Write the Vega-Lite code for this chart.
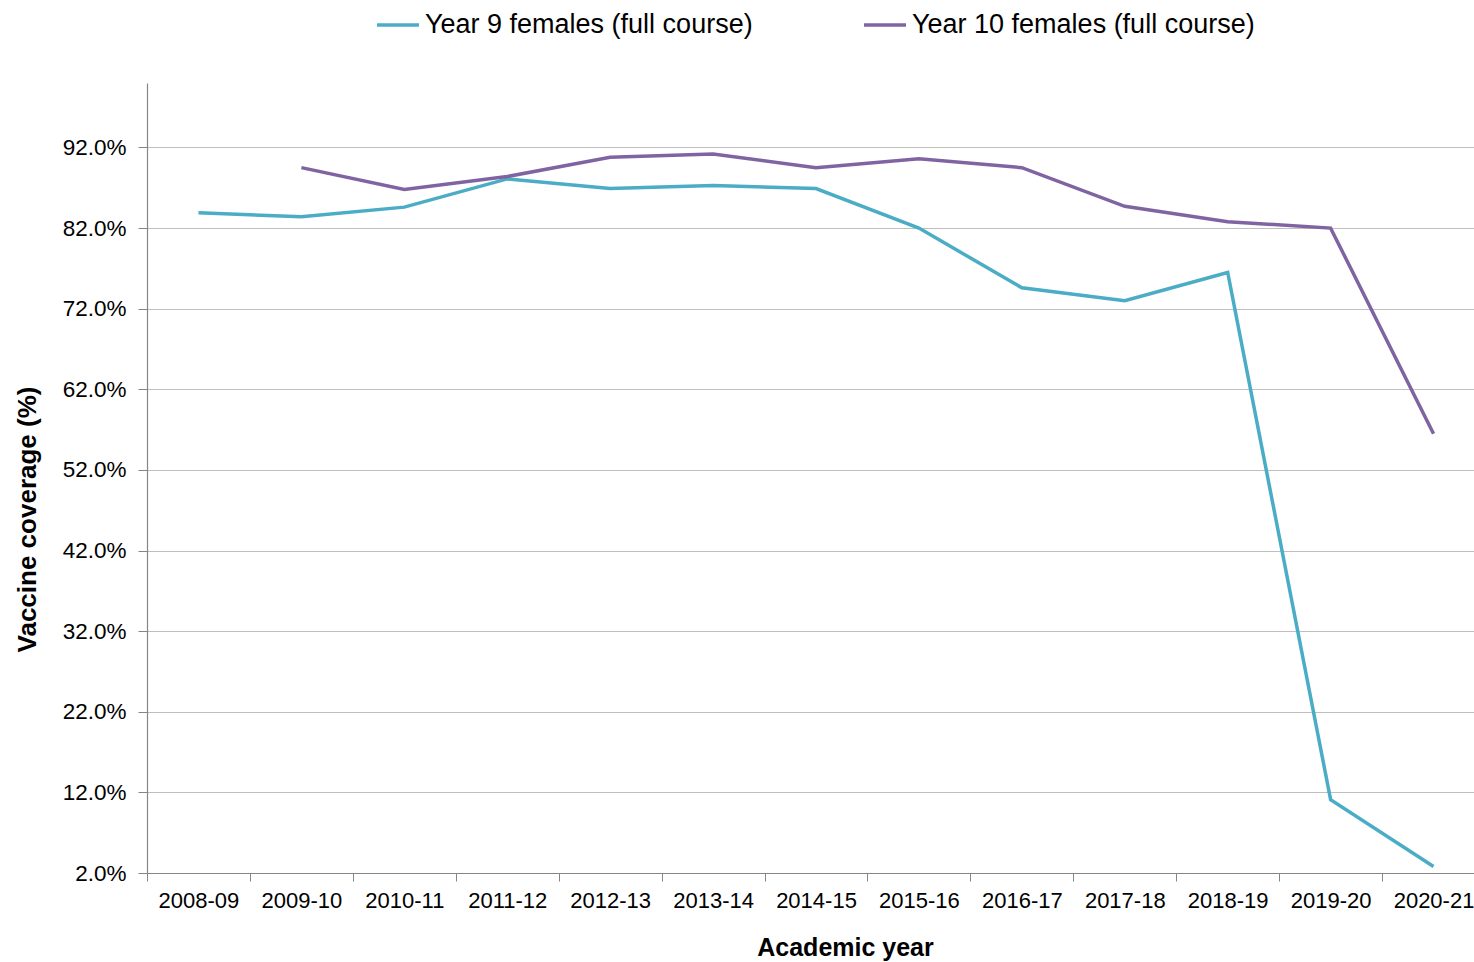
{
  "$schema": "https://vega.github.io/schema/vega-lite/v6.json",
  "width": 1327,
  "height": 790,
  "autosize": {"type": "none"},
  "padding": {"left": 147, "top": 83, "right": 0, "bottom": 89},
  "background": "white",
  "config": {
    "font": "Liberation Sans",
    "view": {"stroke": null}
  },
  "data": {
    "values": [
      {"year": "2008-09", "series": "Year 9 females (full course)", "value": 83.9},
      {"year": "2009-10", "series": "Year 9 females (full course)", "value": 83.4},
      {"year": "2010-11", "series": "Year 9 females (full course)", "value": 84.6},
      {"year": "2011-12", "series": "Year 9 females (full course)", "value": 88.1},
      {"year": "2012-13", "series": "Year 9 females (full course)", "value": 86.9},
      {"year": "2013-14", "series": "Year 9 females (full course)", "value": 87.3},
      {"year": "2014-15", "series": "Year 9 females (full course)", "value": 86.9},
      {"year": "2015-16", "series": "Year 9 females (full course)", "value": 82.0},
      {"year": "2016-17", "series": "Year 9 females (full course)", "value": 74.6},
      {"year": "2017-18", "series": "Year 9 females (full course)", "value": 73.0},
      {"year": "2018-19", "series": "Year 9 females (full course)", "value": 76.5},
      {"year": "2019-20", "series": "Year 9 females (full course)", "value": 11.1},
      {"year": "2020-21", "series": "Year 9 females (full course)", "value": 2.8},
      {"year": "2009-10", "series": "Year 10 females (full course)", "value": 89.5},
      {"year": "2010-11", "series": "Year 10 females (full course)", "value": 86.8},
      {"year": "2011-12", "series": "Year 10 females (full course)", "value": 88.4},
      {"year": "2012-13", "series": "Year 10 females (full course)", "value": 90.8},
      {"year": "2013-14", "series": "Year 10 females (full course)", "value": 91.2},
      {"year": "2014-15", "series": "Year 10 females (full course)", "value": 89.5},
      {"year": "2015-16", "series": "Year 10 females (full course)", "value": 90.6},
      {"year": "2016-17", "series": "Year 10 females (full course)", "value": 89.5},
      {"year": "2017-18", "series": "Year 10 females (full course)", "value": 84.7},
      {"year": "2018-19", "series": "Year 10 females (full course)", "value": 82.8},
      {"year": "2019-20", "series": "Year 10 females (full course)", "value": 82.0},
      {"year": "2020-21", "series": "Year 10 females (full course)", "value": 56.5}
    ]
  },
  "mark": {"type": "line", "strokeWidth": 3.5},
  "encoding": {
    "x": {
      "field": "year",
      "type": "nominal",
      "sort": null,
      "scale": {"type": "band", "range": [0, 1338], "paddingInner": 0, "paddingOuter": 0},
      "axis": {
        "title": "Academic year",
        "titleFontSize": 25,
        "titleFontWeight": "bold",
        "titleColor": "black",
        "titlePadding": 24,
        "titleX": 698,
        "titleAnchor": "start",
        "titleAlign": "center",
        "labelAngle": 0,
        "labelFontSize": 22,
        "labelColor": "black",
        "labelPadding": 9,
        "labelLimit": 0,
        "tickBand": "extent",
        "tickSize": 8,
        "tickColor": "#868686",
        "domainColor": "#868686",
        "domainWidth": 1.2,
        "grid": false
      }
    },
    "y": {
      "field": "value",
      "type": "quantitative",
      "scale": {"domain": [2, 100], "nice": false, "zero": false},
      "axis": {
        "title": "Vaccine coverage (%)",
        "titleFontSize": 26,
        "titleFontWeight": "bold",
        "titleColor": "black",
        "titlePadding": 22,
        "titleY": 436,
        "titleAnchor": "start",
        "titleAlign": "center",
        "values": [2, 12, 22, 32, 42, 52, 62, 72, 82, 92],
        "labelExpr": "format(datum.value, '.1f') + '%'",
        "labelFontSize": 22.5,
        "labelColor": "black",
        "labelPadding": 12,
        "tickSize": 9,
        "tickColor": "#868686",
        "domainColor": "#868686",
        "domainWidth": 1.2,
        "gridColor": "#BFBFBF",
        "gridWidth": 1.2
      }
    },
    "color": {
      "field": "series",
      "type": "nominal",
      "scale": {
        "domain": ["Year 9 females (full course)", "Year 10 females (full course)"],
        "range": ["#4BACC6", "#8064A2"]
      },
      "legend": {
        "title": null,
        "orient": "none",
        "direction": "horizontal",
        "legendX": 228,
        "legendY": -81,
        "symbolType": "stroke",
        "symbolSize": 1764,
        "symbolStrokeWidth": 3.5,
        "labelFontSize": 27,
        "labelColor": "black",
        "labelOffset": 4,
        "labelLimit": 0,
        "columnPadding": 104
      }
    }
  }
}
